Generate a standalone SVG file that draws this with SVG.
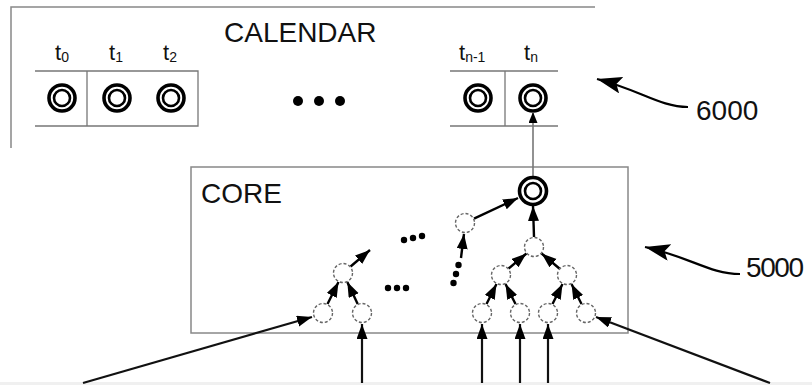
<svg xmlns="http://www.w3.org/2000/svg" width="812" height="385" viewBox="0 0 812 385">
  <defs>
    <marker id="ah" markerUnits="userSpaceOnUse" markerWidth="16" markerHeight="12" refX="15" refY="5.5" orient="auto">
      <path d="M0,0 L15,5.5 L0,11 z" fill="#000"/>
    </marker>
    <marker id="ahs" markerUnits="userSpaceOnUse" markerWidth="12" markerHeight="10" refX="11" refY="4.5" orient="auto">
      <path d="M0,0 L11,4.5 L0,9 z" fill="#000"/>
    </marker>
    <marker id="ahl" markerUnits="userSpaceOnUse" markerWidth="26" markerHeight="18" refX="25" refY="8.5" orient="auto">
      <path d="M0,0 L25,8.5 L0,17 L5,8.5 z" fill="#000"/>
    </marker>
    <style>
      .frame { fill: none; stroke: #888; stroke-width: 1.5; }
      .tbl { fill: none; stroke: #777; stroke-width: 1.3; }
      .title { font-family: "Liberation Sans", Arial, sans-serif; font-size: 28px; fill: #111; }
      .tl { font-family: "Liberation Sans", Arial, sans-serif; font-size: 22px; fill: #111; }
      .sub { font-size: 14px; }
      .ring { fill: #fff; stroke: #000; stroke-width: 3.6; }
      .inner { fill: none; stroke: #000; stroke-width: 2.6; }
      .node { fill: #fff; stroke: #666; stroke-width: 1.4; stroke-dasharray: 3 2; }
      .edge { fill: none; stroke: #000; stroke-width: 2.4; marker-end: url(#ah); }
      .input { fill: none; stroke: #111; stroke-width: 2.2; marker-end: url(#ah); }
      .thin { fill: none; stroke: #777; stroke-width: 1.6; marker-end: url(#ahs); }
      .leader { fill: none; stroke: #000; stroke-width: 2.2; marker-end: url(#ahl); }
      .dot { fill: #000; }
    </style>
  </defs>

  <rect x="0" y="0" width="812" height="385" fill="#fff"/>
  <rect x="0" y="382" width="812" height="3" fill="#f0f0f0"/>

  <!-- calendar section -->
  <g id="calendar">
    <path class="frame" d="M11,148 V7 H595"/>
    <text class="title" x="224" y="42">CALENDAR</text>
    <!-- left slots -->
    <path class="tbl" d="M35,71 H198 V126 H35 M87,71 V126"/>
    <!-- right slots -->
    <path class="tbl" d="M450,71 H558 M450,126 H558 M505,71 V126"/>
    <text class="tl" x="55" y="60">t<tspan class="sub" dy="2">0</tspan></text>
    <text class="tl" x="109" y="60">t<tspan class="sub" dy="2">1</tspan></text>
    <text class="tl" x="163" y="60">t<tspan class="sub" dy="2">2</tspan></text>
    <text class="tl" x="459" y="60">t<tspan class="sub" dy="2">n-1</tspan></text>
    <text class="tl" x="524" y="60">t<tspan class="sub" dy="2">n</tspan></text>
    <circle class="dot" cx="298" cy="101" r="5"/>
    <circle class="dot" cx="319" cy="101" r="5"/>
    <circle class="dot" cx="340" cy="101" r="5"/>
  </g>

  <g id="slot-t0"><circle class="ring" cx="62" cy="98" r="13"/><circle class="inner" cx="62" cy="98" r="8"/></g>
  <g id="slot-t1"><circle class="ring" cx="117" cy="98" r="13"/><circle class="inner" cx="117" cy="98" r="8"/></g>
  <g id="slot-t2"><circle class="ring" cx="171" cy="98" r="13"/><circle class="inner" cx="171" cy="98" r="8"/></g>
  <g id="slot-tn1"><circle class="ring" cx="478" cy="98" r="13"/><circle class="inner" cx="478" cy="98" r="8"/></g>
  <g id="slot-tn"><circle class="ring" cx="533" cy="98" r="13"/><circle class="inner" cx="533" cy="98" r="8"/></g>

  <!-- core section -->
  <g id="core">
    <rect class="frame" x="191" y="167" width="437" height="166"/>
    <text class="title" x="201" y="203">CORE</text>
  </g>

  <g id="labels">
    <text class="title" x="696" y="120">6000</text>
    <text class="title" x="746" y="277" textLength="58">5000</text>
  </g>

  <!-- connectors -->
  <g id="connectors">
    <path class="leader" d="M688,107 C660,107 640,90 597,79"/>
    <path class="leader" d="M740,274 C710,274 690,257 645,247"/>

    <path class="thin" d="M533,176 V112"/>

    <path class="input" d="M83,383 L312,317"/>
    <path class="input" d="M362,383 V324"/>
    <path class="input" d="M482,383 V324"/>
    <path class="input" d="M520,383 V324"/>
    <path class="input" d="M548,383 V324"/>
    <path class="input" d="M770,383 L596,317"/>

    <path class="edge" d="M327.5,304 L338.5,282"/>
    <path class="edge" d="M357.7,304 L347.3,282"/>
    <path class="edge" d="M350.6,266.5 L370,250"/>

    <path class="edge" d="M474,218.7 L518,198"/>
    <path class="edge" d="M461,258 L464,234"/>
    <circle class="dot" cx="453.5" cy="283" r="3.2"/>
    <circle class="dot" cx="456" cy="274" r="3.2"/>
    <circle class="dot" cx="458.5" cy="265" r="3.2"/>

    <path class="edge" d="M534,237 L533,206"/>
    <path class="edge" d="M508.6,268.5 L526.4,253.5"/>
    <path class="edge" d="M559.4,268.5 L541.6,253.5"/>
    <path class="edge" d="M486.5,304 L496.5,284"/>
    <path class="edge" d="M515.5,304 L505.5,284"/>
    <path class="edge" d="M552.5,304 L562.5,284"/>
    <path class="edge" d="M581.5,304 L571.5,284"/>

    <!-- ellipses between subtrees -->
    <circle class="dot" cx="404" cy="240" r="3.2"/>
    <circle class="dot" cx="413" cy="238" r="3.2"/>
    <circle class="dot" cx="422" cy="236" r="3.2"/>
    <circle class="dot" cx="388" cy="288" r="3.2"/>
    <circle class="dot" cx="397" cy="288" r="3.2"/>
    <circle class="dot" cx="406" cy="288" r="3.2"/>
  </g>

  <!-- core nodes -->
  <g id="n-a"><circle class="node" cx="323" cy="313" r="9.5"/></g>
  <g id="n-b"><circle class="node" cx="362" cy="313" r="9.5"/></g>
  <g id="n-c"><circle class="node" cx="343" cy="273" r="9.5"/></g>
  <g id="n-d"><circle class="node" cx="465" cy="223" r="9.5"/></g>
  <g id="n-e"><circle class="node" cx="534" cy="247" r="9.5"/></g>
  <g id="n-f"><circle class="node" cx="501" cy="275" r="9.5"/></g>
  <g id="n-g"><circle class="node" cx="567" cy="275" r="9.5"/></g>
  <g id="n-h"><circle class="node" cx="482" cy="313" r="9.5"/></g>
  <g id="n-i"><circle class="node" cx="520" cy="313" r="9.5"/></g>
  <g id="n-j"><circle class="node" cx="548" cy="313" r="9.5"/></g>
  <g id="n-k"><circle class="node" cx="586" cy="313" r="9.5"/></g>
  <g id="n-out"><circle class="ring" cx="533" cy="191" r="13.5"/><circle class="inner" cx="533" cy="191" r="8"/></g>
</svg>
